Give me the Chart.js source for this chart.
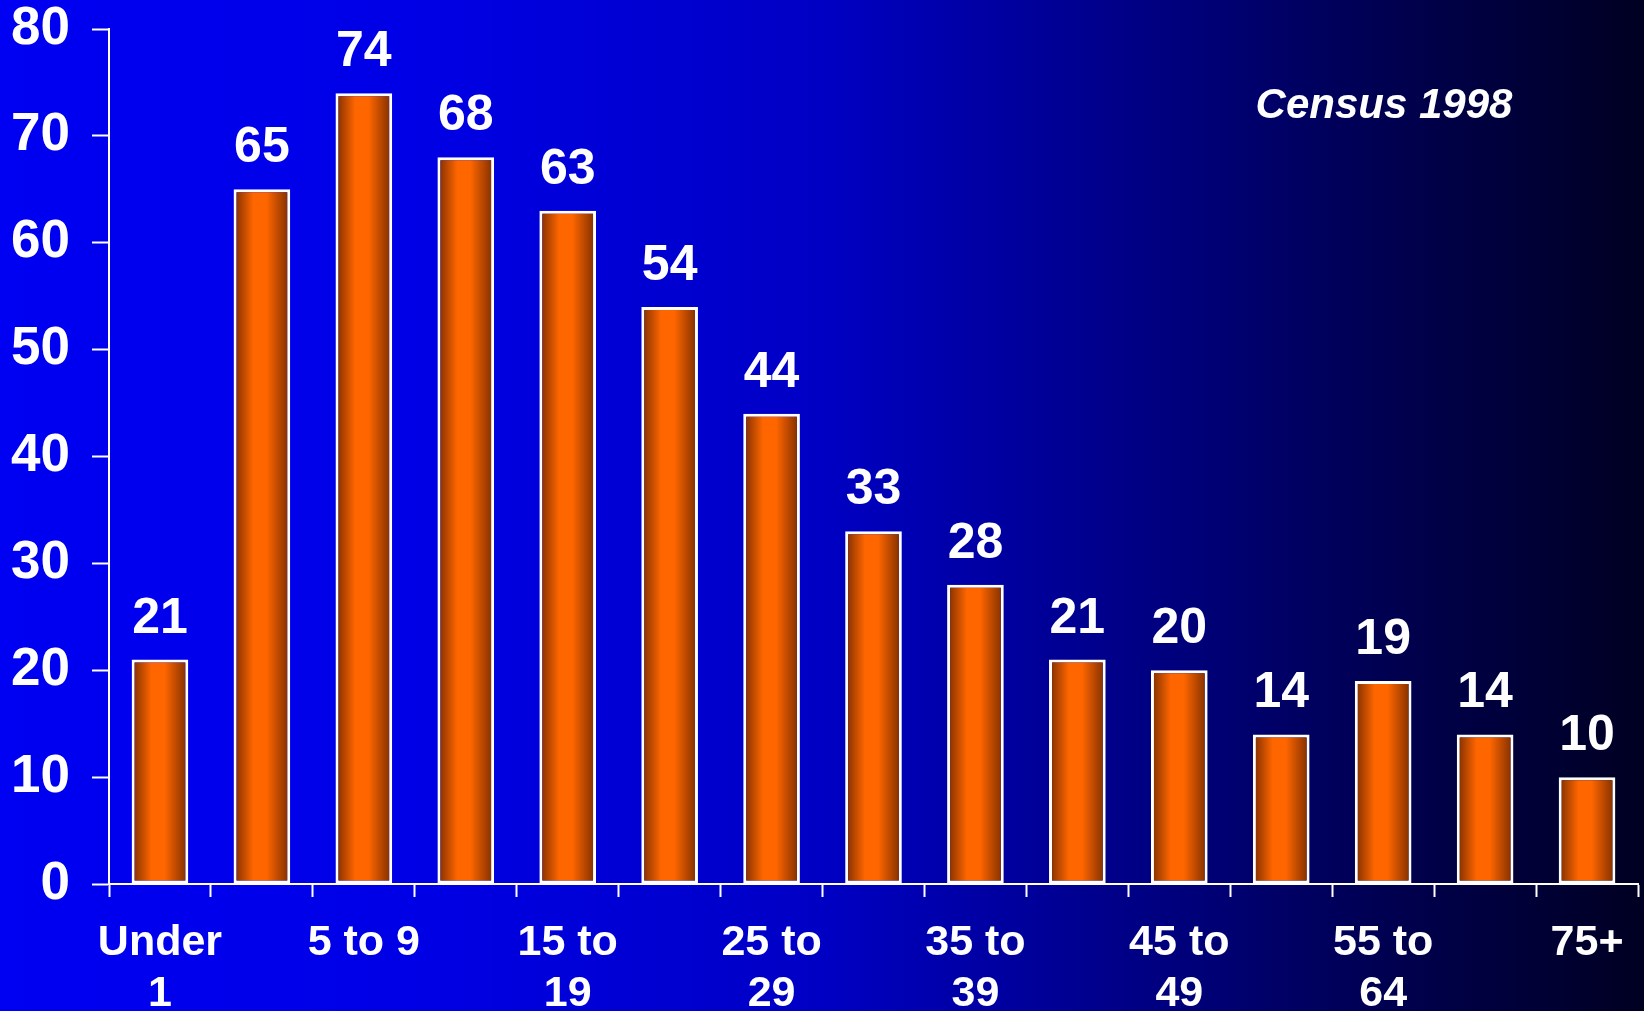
<!DOCTYPE html>
<html>
<head>
<meta charset="utf-8">
<script src="https://cdn.jsdelivr.net/npm/chart.js@4.4.1/dist/chart.umd.min.js"></script>
<style>
    html, body { margin: 0; padding: 0; background: #000020; }
    #wrap { width: 1644px; height: 1011px; position: relative; }
</style>
</head>
<body>
<div id="wrap"><canvas id="chart"></canvas></div>
<script>
"use strict";

// age groups (thousands of residents), Census 1998
var categories = ['Under 1', '1 to 4', '5 to 9', '10 to 14', '15 to 19', '20 to 24', '25 to 29',
    '30 to 34', '35 to 39', '40 to 44', '45 to 49', '50 to 54', '55 to 64', '65 to 74', '75+'];
var tickLabels = [['Under', '1'], '', '5 to 9', '', ['15 to', '19'], '', ['25 to', '29'],
    '', ['35 to', '39'], '', ['45 to', '49'], '', ['55 to', '64'], '', '75+'];
var residents = [21, 65, 74, 68, 63, 54, 44, 33, 28, 21, 20, 14, 19, 14, 10];
var yMax = 80;
var yStep = 10;
var note = 'Census 1998';

var FONT = '"Liberation Sans", Arial, sans-serif';
Chart.defaults.font.family = FONT;
Chart.defaults.color = '#ffffff';

var backdrop = {
    id: 'backdrop',
    beforeDraw: function (chart) {
        var ctx = chart.ctx;
        var g = ctx.createLinearGradient(0, 0, chart.width, 0);
        g.addColorStop(0, '#0000f2');
        g.addColorStop(0.25, '#0000e6');
        g.addColorStop(0.5, '#0000c4');
        g.addColorStop(0.67, '#00008c');
        g.addColorStop(0.82, '#000058');
        g.addColorStop(1, '#000022');
        ctx.save();
        ctx.fillStyle = g;
        ctx.fillRect(0, 0, chart.width, chart.height);
        ctx.restore();
    }
};

// shade every bar from dark brown edges to an orange middle
var barShade = {
    id: 'barShade',
    beforeDatasetsDraw: function (chart) {
        var ctx = chart.ctx;
        chart.getDatasetMeta(0).data.forEach(function (bar) {
            var half = bar.width / 2;
            var g = ctx.createLinearGradient(bar.x - half, 0, bar.x + half, 0);
            g.addColorStop(0, '#7a2c00');
            g.addColorStop(0.35, '#ff6600');
            g.addColorStop(0.58, '#ff6600');
            g.addColorStop(1, '#7a2c00');
            bar.options.backgroundColor = g;
        });
    }
};

var valueLabels = {
    id: 'valueLabels',
    afterDatasetsDraw: function (chart) {
        var ctx = chart.ctx;
        ctx.save();
        ctx.fillStyle = '#ffffff';
        ctx.font = 'bold 50px ' + FONT;
        ctx.textAlign = 'center';
        ctx.textBaseline = 'alphabetic';
        chart.getDatasetMeta(0).data.forEach(function (bar, i) {
            ctx.fillText(String(residents[i]), bar.x, bar.y - 27);
        });
        ctx.restore();
    }
};

var noteLabel = {
    id: 'noteLabel',
    afterDraw: function (chart) {
        var ctx = chart.ctx;
        ctx.save();
        ctx.fillStyle = '#ffffff';
        ctx.font = 'italic bold 42px ' + FONT;
        ctx.textAlign = 'center';
        ctx.textBaseline = 'alphabetic';
        ctx.fillText(note, 1384, 118);
        ctx.restore();
    }
};

new Chart(document.getElementById('chart'), {
    type: 'bar',
    data: {
        labels: categories,
        datasets: [{
            label: 'Residents',
            data: residents,
            backgroundColor: function () { return '#ff6600'; },
            borderColor: '#ffffff',
            borderWidth: 3,
            borderSkipped: false,
            barPercentage: 0.556,
            categoryPercentage: 1
        }]
    },
    options: {
        responsive: true,
        maintainAspectRatio: false,
        animation: false,
        layout: { padding: { top: 0, right: 6, left: 0, bottom: 0 } },
        plugins: {
            legend: { display: false },
            tooltip: { enabled: false }
        },
        scales: {
            x: {
                grid: {
                    offset: true,
                    drawOnChartArea: false,
                    tickLength: 13,
                    tickWidth: 2,
                    tickColor: '#ffffff'
                },
                border: { color: '#ffffff', width: 2 },
                ticks: {
                    color: '#ffffff',
                    autoSkip: false,
                    maxRotation: 0,
                    padding: 20,
                    font: { size: 43, weight: 'bold', lineHeight: 1.2 },
                    callback: function (value, index) { return tickLabels[index]; }
                },
                afterFit: function (scale) { scale.height = 127; }
            },
            y: {
                min: 0,
                max: yMax,
                grid: {
                    drawOnChartArea: false,
                    tickLength: 17,
                    tickWidth: 2,
                    tickColor: '#ffffff'
                },
                border: { color: '#ffffff', width: 2 },
                ticks: {
                    stepSize: yStep,
                    color: '#ffffff',
                    padding: 22,
                    font: { size: 53, weight: 'bold', lineHeight: 1.0 }
                },
                afterFit: function (scale) {
                    scale.width = 109;
                    scale.paddingTop = 29;
                    scale.paddingBottom = 0;
                }
            }
        }
    },
    plugins: [backdrop, barShade, valueLabels, noteLabel]
});
</script>
</body>
</html>
